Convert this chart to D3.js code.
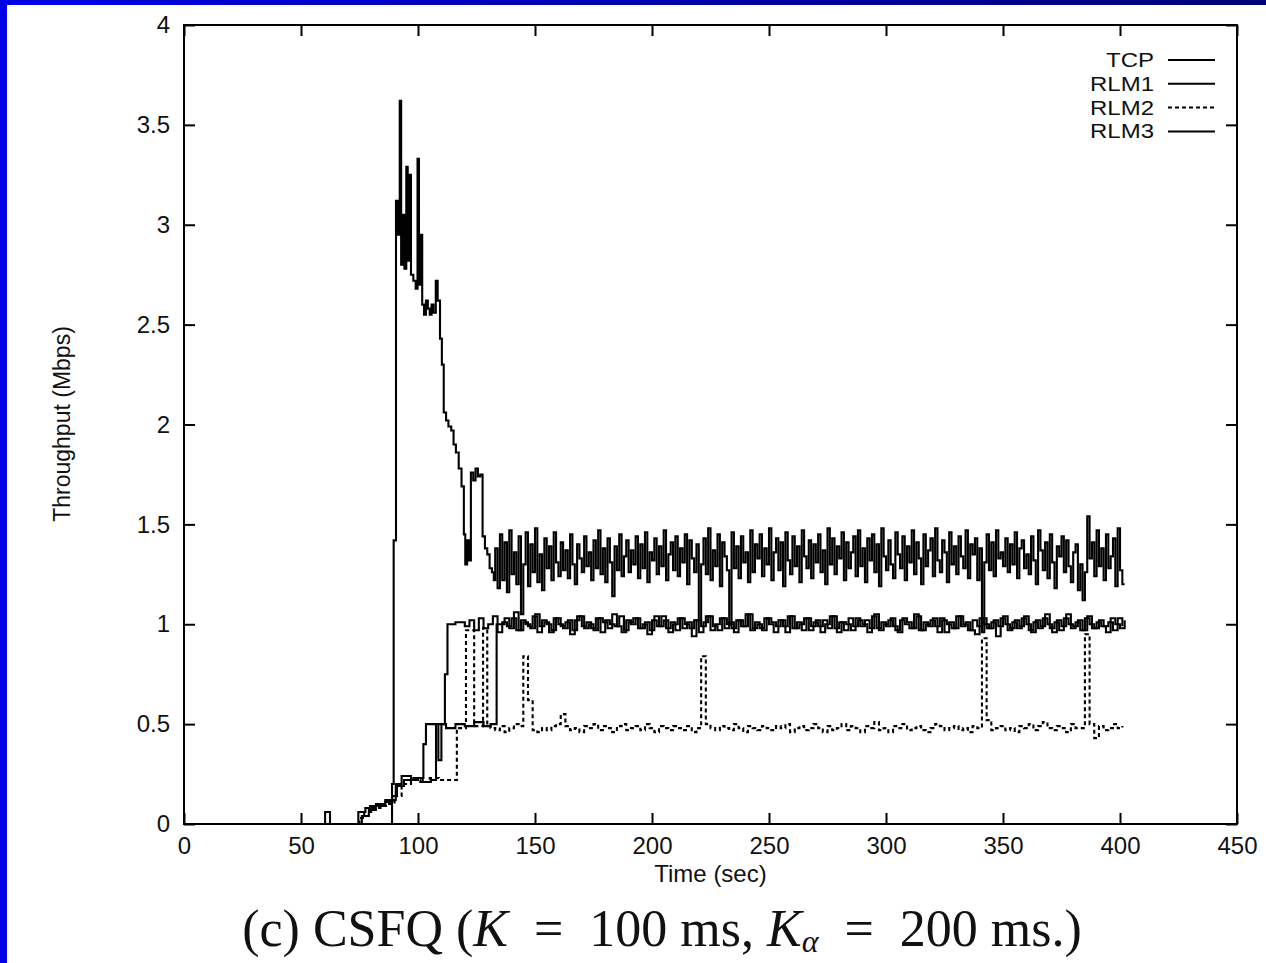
<!DOCTYPE html>
<html>
<head>
<meta charset="utf-8">
<script src="https://cdn.jsdelivr.net/npm/d3@7"></script>
<style>
  body { margin: 0; background: #fff; }
  svg { display: block; }
</style>
</head>
<body>
<svg id="chart"></svg>
<script>
// axis ticks
const xTicks = [0, 50, 100, 150, 200, 250, 300, 350, 400, 450];
const yTicks = [0, 0.5, 1, 1.5, 2, 2.5, 3, 3.5, 4];
const seriesNames = ["TCP", "RLM1", "RLM2", "RLM3"];

// start-up phase, [time, Mbps]
const tcpStart = [[0,0],[88.9,0.2],[89.6,1.42],[90.6,3.12],[91.4,2.95],[92.2,3.62],[92.8,2.8],[93.4,3.05],[94.2,2.78],
  [95.0,3.29],[95.6,2.82],[96.4,3.25],[97.0,2.75],[98.0,2.72],[99.0,2.68],[99.8,3.33],[100.4,2.7],[101.2,2.95],
  [101.8,2.6],[102.6,2.55],[103.4,2.62],[104.2,2.58],[105,2.55],[105.8,2.6],[106.6,2.56],[107.6,2.72],[108.4,2.62],
  [109.4,2.43],[110.2,2.3],[111.0,2.06],[112.0,2.02],[113.0,1.99],[114.2,1.97],[115.2,1.9],[116.2,1.86],[117.4,1.78],
  [118.6,1.69],[119.6,1.45],[120.2,1.3],[121,1.42],[121.8,1.32],[122.6,1.76],[123.6,1.72],[124.6,1.78],[125.6,1.74],
  [126.6,1.75],[127.6,1.44],[128.6,1.38],[129.6,1.35],[130.6,1.28],[131.6,1.26],[132.4,1.22]];
const rlm1Start = [[0,0],[60.3,0.06],[62.4,0],[74.5,0.06],[77.5,0.08],[79.5,0.09],[82,0.1],[86,0.12],[90.5,0.2],
  [93,0.24],[97,0.22],[100,0.23],[102.3,0.4],[103.4,0.5],[108.7,0.32],[110,0.5],[111.5,0.75],[112.6,1.0],[116,1.01]];
const rlm2Start = [[0,0],[75,0.03],[77,0.06],[80,0.08],[84,0.09],[87,0.1],[90,0.14],[93,0.2],[97,0.22],[101,0.21],
  [105,0.23],[109,0.22],[113,0.22],[116.6,0.48],[120.5,0.97],[124,0.49],[127.8,0.98],[129.6,0.49]];
const rlm3Start = [[0,0],[76,0.04],[79,0.07],[82,0.09],[86,0.11],[89,0.14],[91,0.19],[94,0.22],[98,0.23],[102,0.21],
  [105.5,0.22],[107.7,0.5],[112,0.48],[116,0.5],[120,0.49],[124,0.51],[128,0.49],[131,0.5],[133.6,1.0]];

// steady phase, one value per step
const tcpFrom = 133, tcpStep = 1;
const tcpSteady = [
  1.38,1.18,1.45,1.22,1.41,1.16,1.47,1.25,1.36,1.20,
  1.44,1.05,1.30,1.46,1.19,1.40,1.26,1.48,1.21,1.35,
  1.17,1.43,1.28,1.39,1.22,1.46,1.31,1.24,1.41,1.27,
  1.37,1.23,1.45,1.30,1.20,1.40,1.33,1.26,1.44,1.29,
  1.36,1.22,1.42,1.28,1.47,1.25,1.38,1.21,1.43,1.31,
  1.14,1.39,1.27,1.45,1.24,1.34,1.42,1.26,1.37,1.30,
  1.44,1.23,1.40,1.28,1.46,1.21,1.36,1.32,1.43,1.25,
  1.39,1.29,1.47,1.22,1.35,1.41,1.27,1.44,1.24,1.38,
  1.31,1.45,1.20,1.42,1.33,1.26,1.40,1.02,1.30,1.43,
  1.25,1.48,1.22,1.37,1.29,1.45,1.19,1.41,1.34,1.27,
  1.00,1.46,1.28,1.39,1.23,1.44,1.31,1.36,1.21,1.47,
  1.26,1.40,1.33,1.45,1.24,1.38,1.30,1.48,1.22,1.36,
  1.43,1.27,1.41,1.19,1.46,1.32,1.25,1.44,1.29,1.39,
  1.21,1.47,1.34,1.28,1.42,1.23,1.40,1.31,1.45,1.26,
  1.37,1.20,1.48,1.30,1.43,1.25,1.39,1.33,1.46,1.22,
  1.41,1.28,1.36,1.44,1.24,1.47,1.29,1.38,1.21,1.43,
  1.32,1.45,1.26,1.40,1.19,1.48,1.34,1.27,1.42,1.30,
  1.23,1.46,1.35,1.28,1.44,1.22,1.39,1.31,1.47,1.25,
  1.41,1.33,1.20,1.45,1.29,1.37,1.43,1.24,1.48,1.32,
  1.26,1.42,1.36,1.21,1.46,1.30,1.39,1.25,1.44,1.34,
  1.28,1.47,1.23,1.40,1.35,1.43,1.22,1.38,0.96,1.31,
  1.45,1.27,1.41,1.24,1.47,1.33,1.36,1.29,1.43,1.26,
  1.40,1.30,1.46,1.23,1.38,1.42,1.28,1.35,1.25,1.44,
  1.32,1.20,1.47,1.37,1.27,1.41,1.23,1.45,1.31,1.18,
  1.39,1.34,1.44,1.26,1.42,1.29,1.21,1.36,1.40,1.17,
  1.30,1.12,1.26,1.54,1.33,1.41,1.24,1.47,1.29,1.38,
  1.22,1.45,1.28,1.34,1.43,1.19,1.48,1.27,1.20,1.20];
const rlm1From = 118, rlm1Step = 2;
const rlm1Steady = [
  1.01,0.99,1.02,0.97,1.03,0.98,1.00,1.04,0.96,1.01,
  0.99,1.03,0.97,1.02,1.00,0.98,1.05,0.99,1.01,0.96,
  1.03,1.00,0.98,1.02,0.97,1.04,0.99,1.01,0.98,1.03,
  0.96,1.02,1.00,0.99,1.04,0.97,1.01,1.03,0.98,1.00,
  0.95,1.02,0.99,1.04,0.98,1.01,0.97,1.03,1.00,0.98,
  1.02,0.96,1.01,1.04,0.99,0.97,1.03,1.00,0.98,1.02,
  0.99,1.05,0.97,1.01,0.98,1.03,1.00,0.96,1.02,0.99,
  1.04,0.98,1.01,0.97,1.03,0.99,1.02,0.96,1.00,1.04,
  0.98,1.01,0.97,1.03,0.99,1.02,1.00,0.96,1.04,0.98,
  1.01,0.99,1.03,0.97,1.02,1.00,0.98,1.05,0.97,1.01,
  0.99,1.03,0.96,1.02,1.00,0.98,1.04,0.99,1.01,0.97,
  0.95,1.03,1.00,0.98,1.02,0.99,1.04,0.97,1.01,0.98,
  1.03,1.00,0.96,1.02,0.99,1.05,0.98,1.01,0.97,1.03,
  1.00,0.99,1.02,0.97,1.04,0.98,1.01,0.99,0.96,1.03,
  1.00,0.98,1.02];
const rlm2From = 131, rlm2Step = 2;
const rlm2Steady = [
  0.48,0.47,0.49,0.46,0.48,0.50,0.49,0.84,0.62,0.47,
  0.46,0.48,0.47,0.49,0.50,0.55,0.49,0.47,0.48,0.46,
  0.49,0.48,0.50,0.47,0.49,0.48,0.46,0.49,0.50,0.47,
  0.48,0.49,0.47,0.50,0.48,0.46,0.49,0.48,0.47,0.49,
  0.48,0.47,0.49,0.46,0.48,0.84,0.50,0.48,0.47,0.49,
  0.48,0.47,0.50,0.48,0.46,0.49,0.48,0.47,0.49,0.48,
  0.47,0.49,0.48,0.50,0.46,0.48,0.49,0.47,0.48,0.50,
  0.48,0.46,0.49,0.47,0.48,0.50,0.47,0.49,0.48,0.46,
  0.49,0.48,0.51,0.47,0.48,0.46,0.49,0.48,0.50,0.47,
  0.48,0.49,0.47,0.46,0.48,0.50,0.49,0.47,0.48,0.49,
  0.47,0.48,0.46,0.49,0.48,0.93,0.52,0.47,0.48,0.49,
  0.47,0.48,0.46,0.49,0.48,0.50,0.47,0.49,0.51,0.48,
  0.47,0.49,0.48,0.46,0.50,0.48,0.48,0.95,0.50,0.43,
  0.49,0.47,0.48,0.50,0.48,0.49];
const rlm3From = 135, rlm3Step = 2;
const rlm3Steady = [
  1.00,1.03,0.98,1.06,0.97,1.01,0.99,1.04,0.96,1.02,
  1.00,0.97,1.03,0.99,1.01,0.95,1.02,1.04,0.98,1.00,
  0.97,1.03,1.01,0.98,1.05,0.99,0.96,1.02,1.00,1.03,
  0.98,1.01,0.97,1.04,0.99,1.02,0.96,1.00,1.03,0.98,
  1.01,0.94,1.02,0.99,1.04,0.97,1.00,1.03,0.98,1.01,
  0.96,1.02,0.99,1.05,0.98,1.00,0.97,1.03,1.01,0.99,
  1.02,0.96,1.04,0.98,1.00,1.03,0.97,1.01,0.99,1.02,
  0.98,1.04,0.96,1.01,1.00,0.97,1.03,0.99,1.02,0.98,
  1.05,0.97,1.00,1.02,0.99,0.96,1.03,1.01,0.98,1.04,
  0.97,1.00,1.02,0.99,1.03,0.96,1.01,0.98,1.04,1.00,
  0.97,1.02,0.99,1.03,0.98,1.01,0.94,1.03,1.00,0.98,
  1.02,0.99,1.04,0.97,1.01,0.98,1.03,1.00,0.96,1.02,
  0.99,1.05,0.98,1.01,0.97,1.03,1.00,0.98,1.02,0.99,
  1.01,0.97,1.03,0.99];

const W = 1266, H = 963;
const svg = d3.select("#chart").attr("width", W).attr("height", H);

// slide frame: blue bar left, gradient bar top
const defs = svg.append("defs");
const grad = defs.append("linearGradient").attr("id", "topbar");
grad.append("stop").attr("offset", "0%").attr("stop-color", "#0000e8");
grad.append("stop").attr("offset", "100%").attr("stop-color", "#000078");
svg.append("rect").attr("width", W).attr("height", H).attr("fill", "#fff");
svg.append("rect").attr("x", 0).attr("y", 0).attr("width", W).attr("height", 5).attr("fill", "url(#topbar)");
svg.append("rect").attr("x", 0).attr("y", 0).attr("width", 7).attr("height", H).attr("fill", "#0000e6");

const plotL = 184, plotR = 1237, plotT = 25, plotB = 824;
const x = d3.scaleLinear().domain([0, 450]).range([plotL, plotR]);
const y = d3.scaleLinear().domain([0, 4]).range([plotB, plotT]);
const font = "'Liberation Sans', Arial, sans-serif";

function build(start, from, step, vals) {
  return start.concat(vals.map((v, i) => [from + i * step, v]));
}
const data = {
  TCP: build(tcpStart, tcpFrom, tcpStep, tcpSteady),
  RLM1: build(rlm1Start, rlm1From, rlm1Step, rlm1Steady),
  RLM2: build(rlm2Start, rlm2From, rlm2Step, rlm2Steady),
  RLM3: build(rlm3Start, rlm3From, rlm3Step, rlm3Steady)
};
const dashes = { TCP: null, RLM1: null, RLM2: "4,3", RLM3: null };

const line = d3.line().x(d => x(d[0])).y(d => y(d[1])).curve(d3.curveStepAfter);

["RLM2", "RLM3", "RLM1", "TCP"].forEach(name => {
  svg.append("path")
    .datum(data[name])
    .attr("d", line)
    .attr("fill", "none")
    .attr("stroke", "#000")
    .attr("stroke-width", 2.1)
    .attr("stroke-dasharray", dashes[name]);
});

// axes, ticks inward on all four sides
const tl = 11;
const axisB = svg.append("g").attr("transform", `translate(0,${plotB})`)
  .call(d3.axisBottom(x).tickValues(xTicks).tickSize(-tl).tickPadding(13).tickFormat(d3.format("d")));
const axisT = svg.append("g").attr("transform", `translate(0,${plotT})`)
  .call(d3.axisTop(x).tickValues(xTicks).tickSize(-tl).tickFormat(""));
const axisL = svg.append("g").attr("transform", `translate(${plotL},0)`)
  .call(d3.axisLeft(y).tickValues(yTicks).tickSize(-tl).tickPadding(14).tickFormat(d => d3.format("")(d)));
const axisR = svg.append("g").attr("transform", `translate(${plotR},0)`)
  .call(d3.axisRight(y).tickValues(yTicks).tickSize(-tl).tickFormat(""));
[axisB, axisT, axisL, axisR].forEach(g => {
  g.select(".domain").remove();
  g.selectAll(".tick line").attr("stroke", "#000").attr("stroke-width", 2);
  g.selectAll("text").attr("font-family", font).attr("font-size", 24).attr("fill", "#111");
});
axisB.selectAll("text").attr("dy", "0.71em");

svg.append("rect")
  .attr("x", plotL).attr("y", plotT)
  .attr("width", plotR - plotL).attr("height", plotB - plotT)
  .attr("fill", "none").attr("stroke", "#000").attr("stroke-width", 2);

svg.append("text")
  .attr("x", (plotL + plotR) / 2).attr("y", 882)
  .attr("text-anchor", "middle")
  .attr("font-family", font).attr("font-size", 24).attr("fill", "#111")
  .text("Time (sec)");

svg.append("text")
  .attr("transform", "translate(70,424) rotate(-90)")
  .attr("text-anchor", "middle")
  .attr("font-family", font).attr("font-size", 23).attr("fill", "#111")
  .text("Throughput (Mbps)");

// legend
const legend = svg.append("g");
seriesNames.forEach((name, i) => {
  const ly = 60 + i * 23.8;
  legend.append("text")
    .attr("x", 1154).attr("y", ly + 7)
    .attr("text-anchor", "end")
    .attr("font-family", font).attr("font-size", 20).attr("fill", "#111")
    .attr("textLength", name === "TCP" ? 48 : 64)
    .attr("lengthAdjust", "spacingAndGlyphs")
    .text(name);
  legend.append("line")
    .attr("x1", 1168).attr("x2", 1215).attr("y1", ly).attr("y2", ly)
    .attr("stroke", "#000").attr("stroke-width", 2)
    .attr("stroke-dasharray", dashes[name]);
});

// caption
const cap = svg.append("text")
  .attr("x", 662).attr("y", 946)
  .attr("text-anchor", "middle")
  .attr("font-family", "'Liberation Serif', 'Times New Roman', serif")
  .attr("font-size", 52).attr("fill", "#111")
  .style("white-space", "pre");
cap.append("tspan").text("(c) CSFQ (");
cap.append("tspan").attr("font-style", "italic").text("K");
cap.append("tspan").text("  =  100 ms, ");
cap.append("tspan").attr("font-style", "italic").text("K");
cap.append("tspan").attr("font-style", "italic").attr("font-size", 32).attr("dy", 6).text("α");
cap.append("tspan").attr("dy", -6).text("  =  200 ms.)");
</script>
</body>
</html>
